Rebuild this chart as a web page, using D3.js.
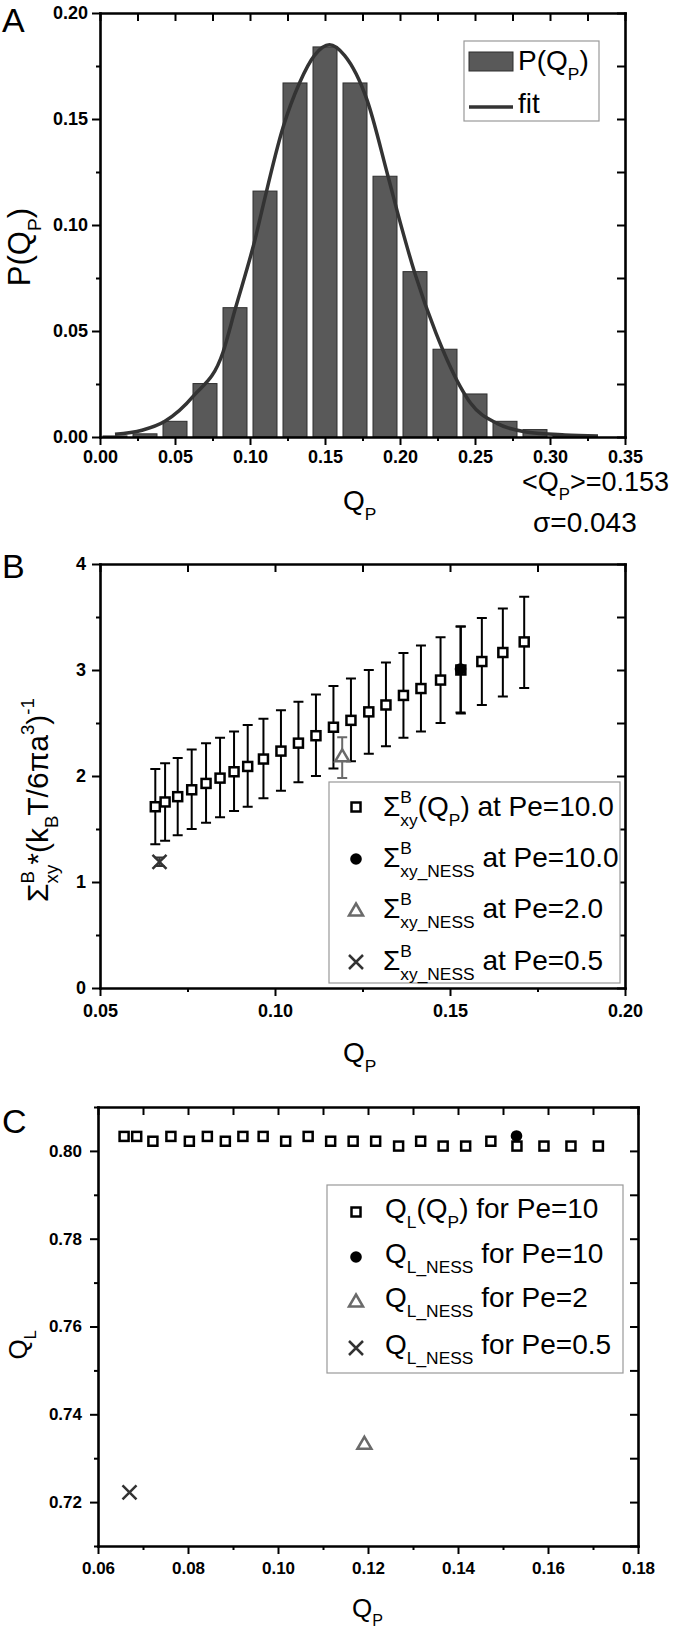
<!DOCTYPE html>
<html>
<head>
<meta charset="utf-8">
<script src="https://cdn.jsdelivr.net/npm/d3@7"></script>
<style>
body { margin: 0; background: #fff; }
svg text { font-family: "Liberation Sans", Arial, sans-serif; white-space: pre; }
</style>
</head>
<body>
<svg id="fig" width="681" height="1633"></svg>
<script>
// ---- panel A : histogram of Q_P with gaussian fit
var binQ = [0.01, 0.03, 0.05, 0.07, 0.09, 0.11, 0.13, 0.15, 0.17, 0.19, 0.21, 0.23, 0.25, 0.27, 0.29, 0.31];
var binP = [0.0005, 0.0015, 0.0074, 0.0252, 0.061, 0.116, 0.167, 0.184, 0.167, 0.123, 0.078, 0.0414, 0.0203, 0.0074, 0.0035, 0.0006];
var fitQ = [0.010, 0.028, 0.043, 0.0625, 0.082, 0.090, 0.104, 0.109, 0.122, 0.133, 0.143, 0.153, 0.163, 0.178, 0.192, 0.201, 0.210, 0.224, 0.240, 0.247, 0.265, 0.284, 0.310, 0.332];
var fitP = [0.0013, 0.0032, 0.0073, 0.0195, 0.040, 0.060, 0.095, 0.110, 0.146, 0.167, 0.180, 0.185, 0.180, 0.159, 0.123, 0.099, 0.077, 0.049, 0.024, 0.016, 0.0063, 0.0024, 0.0010, 0.0005];
var aXTicks = [0, 0.05, 0.10, 0.15, 0.20, 0.25, 0.30, 0.35];
var aXMinor = [0.025, 0.075, 0.125, 0.175, 0.225, 0.275, 0.325];
var aYTicks = [0, 0.05, 0.10, 0.15, 0.20];
var aYMinor = [0.025, 0.075, 0.125, 0.175];
var statMean = "=0.153";
var statSigma = "σ=0.043";

// ---- panel B : stress vs Q_P
var qp = [0.0658, 0.0686, 0.0722, 0.0762, 0.0803, 0.0843, 0.0883, 0.0922, 0.0967, 0.1017, 0.1067, 0.1117,
          0.1167, 0.1217, 0.1268, 0.1317, 0.1367, 0.1417, 0.1473, 0.1531, 0.1591, 0.1651, 0.1712];
var sigB = [1.71, 1.755, 1.805, 1.87, 1.93, 1.98, 2.04, 2.09, 2.16, 2.235, 2.31, 2.38,
            2.46, 2.525, 2.605, 2.67, 2.76, 2.825, 2.905, 3.0, 3.08, 3.165, 3.265];
var sigHi = [2.066, 2.12, 2.17, 2.25, 2.31, 2.36, 2.42, 2.48, 2.54, 2.62, 2.70, 2.77,
             2.85, 2.92, 3.00, 3.07, 3.16, 3.23, 3.31, 3.41, 3.49, 3.58, 3.69];
var sigLo = [1.356, 1.39, 1.44, 1.50, 1.56, 1.61, 1.67, 1.71, 1.79, 1.86, 1.94, 2.00,
             2.07, 2.14, 2.21, 2.28, 2.36, 2.42, 2.50, 2.59, 2.67, 2.75, 2.83];
var nessType = ["circle", "triangle", "cross"];
var nessPe = ["10.0", "2.0", "0.5"];
var nessQ = [0.153, 0.1192, 0.067];
var nessSig = [3.01, 2.19, 1.19];
var nessHi = [3.41, 2.365, 1.23];
var nessLo = [2.60, 1.98, 1.15];
var bXTicks = [0.05, 0.10, 0.15, 0.20];
var bXMinor = [0.075, 0.125, 0.175];
var bYTicks = [0, 1, 2, 3, 4];
var bYMinor = [0.5, 1.5, 2.5, 3.5];

// ---- panel C : Q_L vs Q_P
var qL = [0.8033, 0.8033, 0.8022, 0.8033, 0.8022, 0.8033, 0.8022, 0.8033, 0.8033, 0.8022, 0.8033, 0.8022,
          0.8022, 0.8022, 0.8011, 0.8022, 0.8011, 0.8011, 0.8022, 0.8011, 0.8011, 0.8011, 0.8011];
var nessQL = [0.8034, 0.7334, 0.7222];
var cPe = ["10", "2", "0.5"];
var cXTicks = [0.06, 0.08, 0.10, 0.12, 0.14, 0.16, 0.18];
var cXMinor = [0.07, 0.09, 0.11, 0.13, 0.15, 0.17];
var cYTicks = [0.72, 0.74, 0.76, 0.78, 0.80];
var cYMinor = [0.71, 0.73, 0.75, 0.77, 0.79, 0.81];

var svg = d3.select("#fig");

// text with sub/superscripts; parts are strings or {t, sup, sub}
function rich(parent, x, y, parts, size, anchor, rotate) {
    var outer = parent.append("g")
        .attr("transform", "translate(" + x + "," + y + ")" + (rotate ? " rotate(-90)" : ""));
    var g = outer.append("g");
    var cx = 0;
    parts.forEach(function(p) {
        if (typeof p === "string") p = {t: p};
        var w = 0;
        [["t", 0, 1], ["sup", -0.46, 0.62], ["sub", 0.34, 0.62]].forEach(function(k) {
            if (p[k[0]] === undefined) return;
            var t = g.append("text").attr("x", cx).attr("y", k[1] * size)
                .attr("font-size", size * k[2]).attr("fill", p.fill || "#000").text(p[k[0]]);
            w = Math.max(w, t.node().getComputedTextLength());
        });
        cx += w;
    });
    var shift = anchor === "middle" ? -cx / 2 : (anchor === "end" ? -cx : 0);
    g.attr("transform", "translate(" + shift + ",0)");
    return outer;
}

function styleAxis(sel, size) {
    sel.attr("font-family", null).attr("font-size", null);
    sel.select(".domain").attr("stroke-width", 2.6).attr("stroke-linecap", "square");
    sel.selectAll(".tick line").attr("stroke-width", 2);
    sel.selectAll(".tick text").attr("font-size", size).attr("font-weight", "bold").attr("fill", "#000");
}

function frame(g, x, y, o) {
    var x0 = x.range()[0], x1 = x.range()[1], y0 = y.range()[0], y1 = y.range()[1];
    var bx = g.append("g").attr("transform", "translate(0," + y0 + ")")
        .call(d3.axisBottom(x).tickValues(o.xt).tickFormat(d3.format(o.xf)).tickSize(8).tickSizeOuter(0).tickPadding(o.xpad));
    styleAxis(bx, o.fs);
    var bm = g.append("g").attr("transform", "translate(0," + y0 + ")")
        .call(d3.axisBottom(x).tickValues(o.xm).tickFormat("").tickSize(4).tickSizeOuter(0));
    styleAxis(bm, o.fs); bm.select(".domain").remove();
    var ly = g.append("g").attr("transform", "translate(" + x0 + ",0)")
        .call(d3.axisLeft(y).tickValues(o.yt).tickFormat(d3.format(o.yf)).tickSize(8).tickSizeOuter(0).tickPadding(o.ypad));
    styleAxis(ly, o.fs);
    var lm = g.append("g").attr("transform", "translate(" + x0 + ",0)")
        .call(d3.axisLeft(y).tickValues(o.ym).tickFormat("").tickSize(4).tickSizeOuter(0));
    styleAxis(lm, o.fs); lm.select(".domain").remove();
    var tx = g.append("g").attr("transform", "translate(0," + y1 + ")")
        .call(d3.axisTop(x).tickValues(o.xt.concat(o.xm)).tickFormat("").tickSize(-8).tickSizeOuter(0));
    styleAxis(tx, o.fs);
    var ry = g.append("g").attr("transform", "translate(" + x1 + ",0)")
        .call(d3.axisRight(y).tickValues(o.yt.concat(o.ym)).tickFormat("").tickSize(-8).tickSizeOuter(0));
    styleAxis(ry, o.fs);
}

function marker(g, type, cx, cy) {
    if (type === "square") {
        g.append("rect").attr("x", cx - 4.5).attr("y", cy - 4.5).attr("width", 9).attr("height", 9)
            .attr("fill", "#fff").attr("stroke", "#000").attr("stroke-width", 2.5);
    } else if (type === "circle") {
        g.append("circle").attr("cx", cx).attr("cy", cy).attr("r", 5.8).attr("fill", "#000");
    } else if (type === "triangle") {
        g.append("path").attr("d", "M" + cx + "," + (cy - 6.5) + "L" + (cx + 7) + "," + (cy + 5.5) + "L" + (cx - 7) + "," + (cy + 5.5) + "Z")
            .attr("fill", "#fff").attr("stroke", "#6a6a6a").attr("stroke-width", 2.5);
    } else {
        g.append("path").attr("d", "M" + (cx - 7) + "," + (cy - 7) + "L" + (cx + 7) + "," + (cy + 7) + "M" + (cx + 7) + "," + (cy - 7) + "L" + (cx - 7) + "," + (cy + 7))
            .attr("stroke", "#333").attr("stroke-width", 2.5);
    }
}

function errbar(g, x, ylo, yhi, color, cap) {
    g.append("path")
        .attr("d", "M" + x + "," + ylo + "V" + yhi + "M" + (x - cap) + "," + yhi + "H" + (x + cap) + "M" + (x - cap) + "," + ylo + "H" + (x + cap))
        .attr("stroke", color).attr("stroke-width", 2).attr("fill", "none");
}

// ================= A
var gA = svg.append("g");
var xA = d3.scaleLinear().domain([0, 0.35]).range([100, 625]);
var yA = d3.scaleLinear().domain([0, 0.20]).range([437, 13]);

gA.selectAll("rect.bar").data(binQ).join("rect").attr("class", "bar")
    .attr("x", function(d) { return xA(d - 0.008); })
    .attr("width", xA(0.016) - xA(0))
    .attr("y", function(d, i) { return yA(binP[i]); })
    .attr("height", function(d, i) { return yA(0) - yA(binP[i]); })
    .attr("fill", "#595959").attr("stroke", "#2e2e2e").attr("stroke-width", 1);

gA.append("path").datum(fitQ)
    .attr("d", d3.line().x(function(d) { return xA(d); }).y(function(d, i) { return yA(fitP[i]); }).curve(d3.curveMonotoneX))
    .attr("fill", "none").attr("stroke", "#333").attr("stroke-width", 3.5);

frame(gA, xA, yA, {xt: aXTicks, xm: aXMinor, yt: aYTicks, ym: aYMinor, xf: ".2f", yf: ".2f", xpad: 5, ypad: 4, fs: 18});

gA.append("rect").attr("x", 464).attr("y", 41).attr("width", 135).attr("height", 80)
    .attr("fill", "#fff").attr("stroke", "#999").attr("stroke-width", 1.2);
gA.append("rect").attr("x", 469).attr("y", 52).attr("width", 44).attr("height", 19)
    .attr("fill", "#595959").attr("stroke", "#2e2e2e");
rich(gA, 518, 70, ["P(Q", {sub: "P"}, ")"], 28);
gA.append("line").attr("x1", 469).attr("x2", 513).attr("y1", 107).attr("y2", 107)
    .attr("stroke", "#333").attr("stroke-width", 3.5);
rich(gA, 518, 113, ["fit"], 28);

rich(gA, 30, 247, ["P(Q", {sub: "P"}, ")"], 31, "middle", true);
rich(gA, 343, 510, ["Q", {sub: "P"}], 28);
rich(gA, 522, 491, ["<Q", {sub: "P"}, ">" + statMean], 27);
rich(gA, 533, 532, [statSigma], 28);
rich(gA, 2, 32, ["A"], 34);

// ================= B
var gB = svg.append("g");
var xB = d3.scaleLinear().domain([0.05, 0.20]).range([100, 625]);
var yB = d3.scaleLinear().domain([0, 4]).range([988, 564]);

qp.forEach(function(q, i) { errbar(gB, xB(q), yB(sigLo[i]), yB(sigHi[i]), "#000", 5); });
nessQ.forEach(function(q, i) {
    errbar(gB, xB(q), yB(nessLo[i]), yB(nessHi[i]), i === 1 ? "#6a6a6a" : (i === 2 ? "#333" : "#000"), 5);
});
qp.forEach(function(q, i) { marker(gB, "square", xB(q), yB(sigB[i])); });
nessQ.forEach(function(q, i) { marker(gB, nessType[i], xB(q), yB(nessSig[i])); });

frame(gB, xB, yB, {xt: bXTicks, xm: bXMinor, yt: bYTicks, ym: bYMinor, xf: ".2f", yf: "d", xpad: 8, ypad: 6, fs: 18});

gB.append("rect").attr("x", 329).attr("y", 782).attr("width", 291).attr("height", 201)
    .attr("fill", "#fff").attr("stroke", "#999").attr("stroke-width", 1.2);
var bRows = [807, 859, 910, 962];
marker(gB, "square", 356, bRows[0]);
rich(gB, 383, bRows[0] + 9, ["Σ", {sup: "B", sub: "xy"}, "(Q", {sub: "P"}, ") at Pe=10.0"], 28);
nessType.forEach(function(t, i) {
    marker(gB, t, 356, bRows[i + 1]);
    rich(gB, 383, bRows[i + 1] + 8, ["Σ", {sup: "B", sub: "xy_NESS"}, " at Pe=" + nessPe[i]], 28);
});

rich(gB, 48, 800, ["Σ", {sup: "B", sub: "xy"}, "*(k", {sub: "B"}, "T/6πa", {sup: "3"}, ")", {sup: "-1"}], 30, "middle", true);
rich(gB, 343, 1062, ["Q", {sub: "P"}], 28);
rich(gB, 2, 578, ["B"], 34);

// ================= C
var gC = svg.append("g");
var xC = d3.scaleLinear().domain([0.06, 0.18]).range([98, 638]);
var yC = d3.scaleLinear().domain([0.71, 0.81]).range([1546, 1107]);

qp.forEach(function(q, i) { marker(gC, "square", xC(q), yC(qL[i])); });
nessQ.forEach(function(q, i) { marker(gC, nessType[i], xC(q), yC(nessQL[i])); });

frame(gC, xC, yC, {xt: cXTicks, xm: cXMinor, yt: cYTicks, ym: cYMinor, xf: ".2f", yf: ".2f", xpad: 8, ypad: 8, fs: 17});

gC.append("rect").attr("x", 327).attr("y", 1185).attr("width", 296).attr("height", 188)
    .attr("fill", "#fff").attr("stroke", "#999").attr("stroke-width", 1.2);
var cRows = [1212, 1257, 1301, 1348];
marker(gC, "square", 356, cRows[0]);
rich(gC, 385, cRows[0] + 6, ["Q", {sub: "L"}, "(Q", {sub: "P"}, ") for Pe=10"], 28);
nessType.forEach(function(t, i) {
    marker(gC, t, 356, cRows[i + 1]);
    rich(gC, 385, cRows[i + 1] + 6, ["Q", {sub: "L_NESS"}, " for Pe=" + cPe[i]], 28);
});

rich(gC, 27, 1345, ["Q", {sub: "L"}], 26, "middle", true);
rich(gC, 352, 1617, ["Q", {sub: "P"}], 26);
rich(gC, 2, 1133, ["C"], 34);
</script>
</body>
</html>
